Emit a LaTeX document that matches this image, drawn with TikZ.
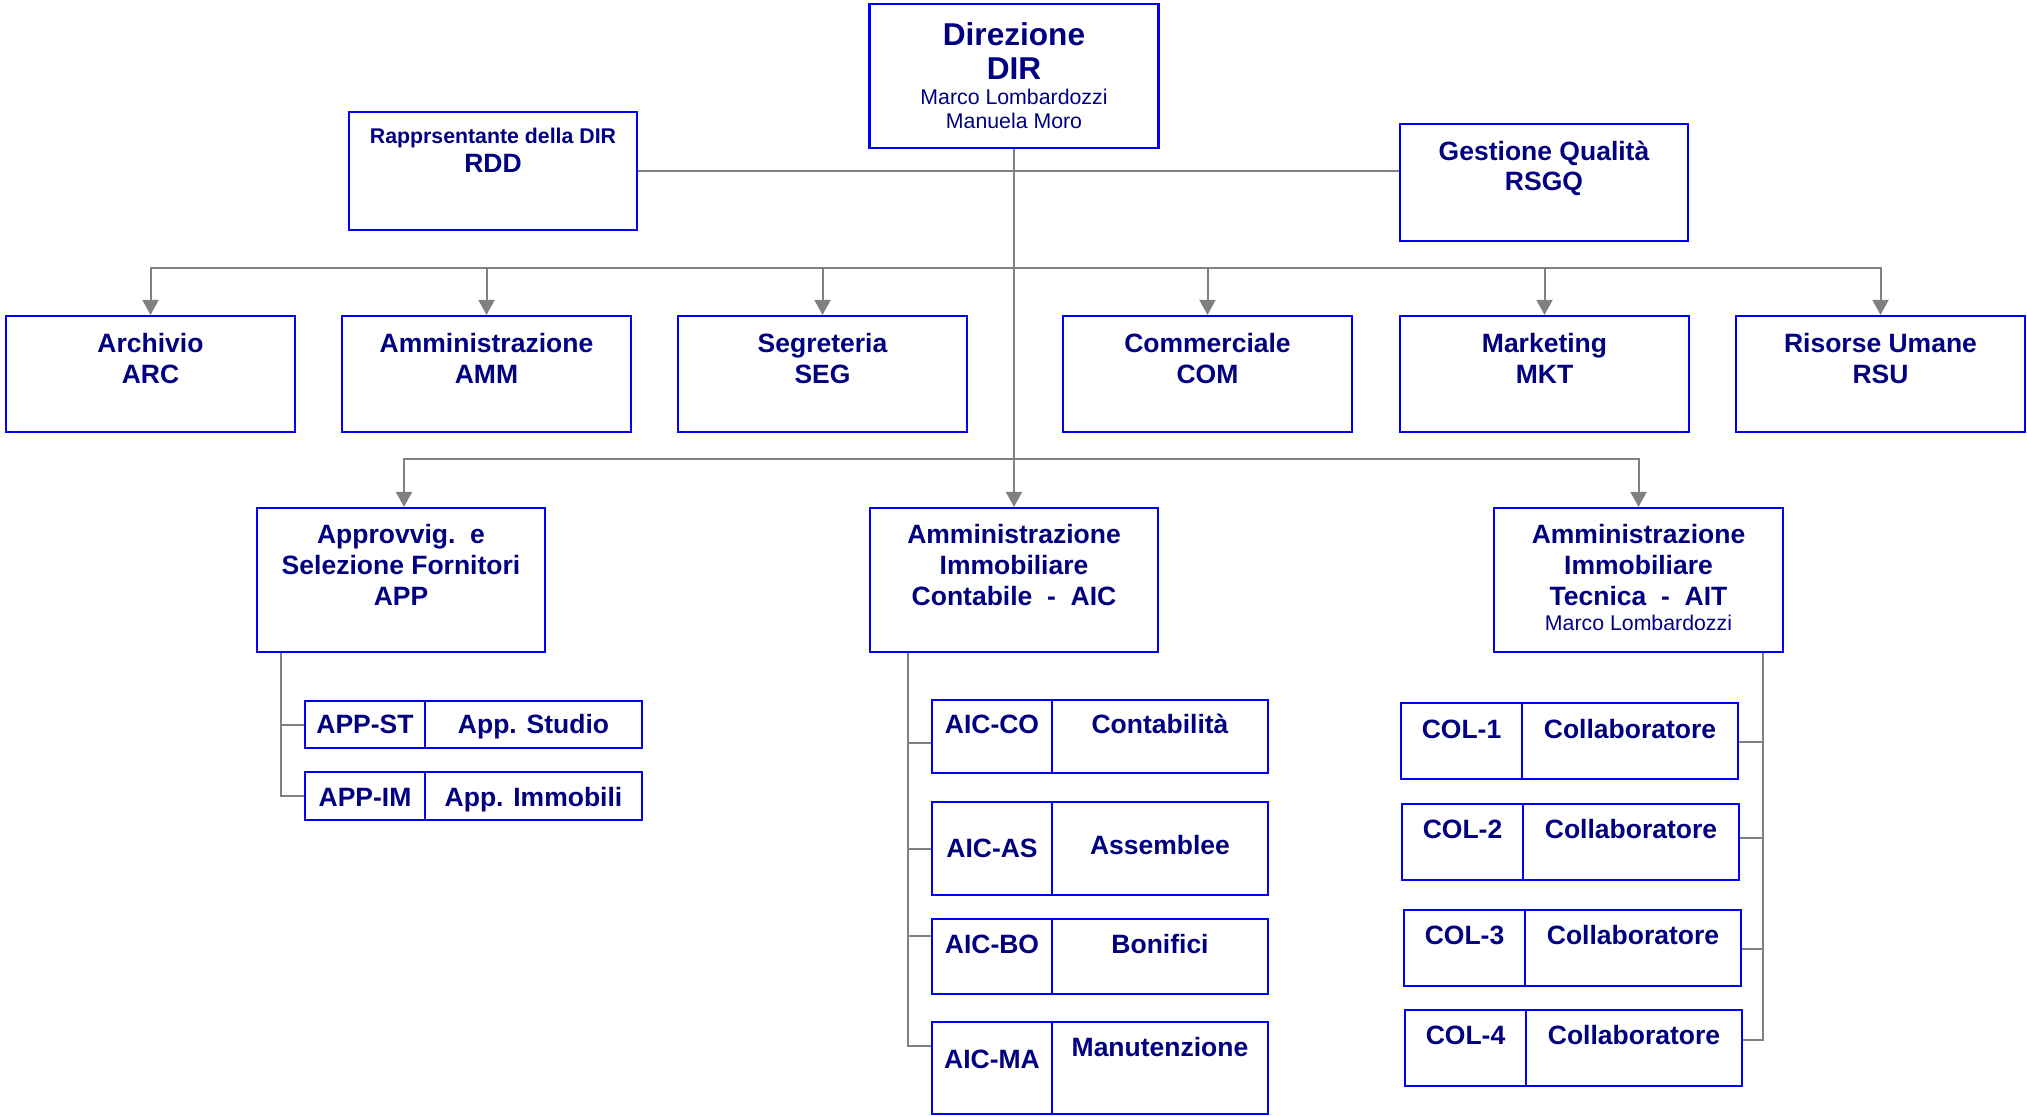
\documentclass[tikz,border=0pt]{standalone}
\usepackage{fontspec}
\setmainfont{Liberation Sans}
\usetikzlibrary{arrows.meta,calc}
\definecolor{navytxt}{RGB}{0,0,128}
\definecolor{boxblue}{RGB}{0,0,250}
\definecolor{conngray}{RGB}{128,128,128}
\newcommand\FtB{\fontsize{26.5pt}{31pt}\selectfont\bfseries}
\newcommand\FtD{\fontsize{31.6pt}{36pt}\selectfont\bfseries}
\newcommand\FtS{\fontsize{21.3pt}{25pt}\selectfont\bfseries}
\newcommand\FtR{\fontsize{21.3pt}{25pt}\selectfont\mdseries}
\newcommand\Ln[3]{\hbox to\hsize{\hss\rule{0pt}{#1}#2\smash{#3}\hss}}
\newcommand\Bx[3]{\parbox[c][#1][t]{#2}{\offinterlineskip#3}}
\begin{document}
\begin{tikzpicture}[x=1pt,y=-1pt,
  box/.style={draw=boxblue,line width=2.2pt,inner sep=0pt,text=navytxt,fill=white},
  conn/.style={draw=conngray,line width=2pt},
  arr/.style={conn,-{Triangle[length=15pt,width=16pt]}}]
\fill[white] (0,0) rectangle (2027,1116);
\useasboundingbox (0,0) rectangle (2027,1116);

% top level
\node[box] (dir) at (1014,76) {\Bx{144pt}{289pt}{\Ln{42pt}{\FtD}{Direzione}\Ln{34pt}{\FtD}{DIR}\Ln{24pt}{\FtR}{Marco Lombardozzi}\Ln{25pt}{\FtR}{Manuela Moro}}};
\node[box] (rdd) at (493,171) {\Bx{118pt}{288pt}{\Ln{31pt}{\FtS}{Rapprsentante della DIR}\Ln{29pt}{\FtB}{RDD}}};
\node[box] (rsgq) at (1544,182.5) {\Bx{117pt}{288pt}{\Ln{36pt}{\FtB}{Gestione Qualità}\Ln{30pt}{\FtB}{RSGQ}}};

% second row
\node[box] (arc) at (150.5,374) {\Bx{116pt}{289pt}{\Ln{36pt}{\FtB}{Archivio}\Ln{31pt}{\FtB}{ARC}}};
\node[box] (amm) at (486.5,374) {\Bx{116pt}{289pt}{\Ln{36pt}{\FtB}{Amministrazione}\Ln{31pt}{\FtB}{AMM}}};
\node[box] (seg) at (822.5,374) {\Bx{116pt}{289pt}{\Ln{36pt}{\FtB}{Segreteria}\Ln{31pt}{\FtB}{SEG}}};
\node[box] (com) at (1207.5,374) {\Bx{116pt}{289pt}{\Ln{36pt}{\FtB}{Commerciale}\Ln{31pt}{\FtB}{COM}}};
\node[box] (mkt) at (1544.5,374) {\Bx{116pt}{289pt}{\Ln{36pt}{\FtB}{Marketing}\Ln{31pt}{\FtB}{MKT}}};
\node[box] (rsu) at (1880.5,374) {\Bx{116pt}{289pt}{\Ln{36pt}{\FtB}{Risorse Umane}\Ln{31pt}{\FtB}{RSU}}};

% third row
\node[box] (app) at (401,580) {\Bx{144pt}{288pt}{\Ln{35pt}{\FtB}{Approvvig.\ \ e}\Ln{31pt}{\FtB}{Selezione Fornitori}\Ln{31pt}{\FtB}{APP}}};
\node[box] (aic) at (1014,580) {\Bx{144pt}{288pt}{\Ln{35pt}{\FtB}{Amministrazione}\Ln{31pt}{\FtB}{Immobiliare}\Ln{31pt}{\FtB}{Contabile\ \ -\ \ AIC}}};
\node[box] (ait) at (1638.5,580) {\Bx{144pt}{289pt}{\Ln{35pt}{\FtB}{Amministrazione}\Ln{31pt}{\FtB}{Immobiliare}\Ln{31pt}{\FtB}{Tecnica\ \ -\ \ AIT}\Ln{25pt}{\FtR}{Marco Lombardozzi}}};

% APP sub units
\node[box] (appst) at (365,724.5) {\Bx{47pt}{120pt}{\Ln{32pt}{\FtB}{APP-ST}}};
\node[box] (appstd) at (533.5,724.5) {\Bx{47pt}{217pt}{\Ln{32pt}{\FtB}{App. Studio}}};
\node[box] (appim) at (365,796) {\Bx{48pt}{120pt}{\Ln{34pt}{\FtB}{APP-IM}}};
\node[box] (appimd) at (533.5,796) {\Bx{48pt}{217pt}{\Ln{34pt}{\FtB}{App. Immobili}}};

% AIC sub units
\node[box] (aicco) at (992,736.5) {\Bx{73pt}{120pt}{\Ln{33pt}{\FtB}{AIC-CO}}};
\node[box] (aiccod) at (1160,736.5) {\Bx{73pt}{216pt}{\Ln{33pt}{\FtB}{Contabilità}}};
\node[box] (aicas) at (992,848.5) {\Bx{93pt}{120pt}{\Ln{55pt}{\FtB}{AIC-AS}}};
\node[box] (aicasd) at (1160,848.5) {\Bx{93pt}{216pt}{\Ln{52pt}{\FtB}{Assemblee}}};
\node[box] (aicbo) at (992,956.5) {\Bx{75pt}{120pt}{\Ln{34pt}{\FtB}{AIC-BO}}};
\node[box] (aicbod) at (1160,956.5) {\Bx{75pt}{216pt}{\Ln{34pt}{\FtB}{Bonifici}}};
\node[box] (aicma) at (992,1068) {\Bx{92pt}{120pt}{\Ln{46pt}{\FtB}{AIC-MA}}};
\node[box] (aicmad) at (1160,1068) {\Bx{92pt}{216pt}{\Ln{34pt}{\FtB}{Manutenzione}}};

% AIT sub units
\node[box] (col1) at (1461.5,741) {\Bx{76pt}{121pt}{\Ln{35pt}{\FtB}{COL-1}}};
\node[box] (col1d) at (1630,741) {\Bx{76pt}{216pt}{\Ln{35pt}{\FtB}{Collaboratore}}};
\node[box] (col2) at (1462.5,842) {\Bx{76pt}{121pt}{\Ln{34pt}{\FtB}{COL-2}}};
\node[box] (col2d) at (1631,842) {\Bx{76pt}{216pt}{\Ln{34pt}{\FtB}{Collaboratore}}};
\node[box] (col3) at (1464.5,948) {\Bx{76pt}{121pt}{\Ln{34pt}{\FtB}{COL-3}}};
\node[box] (col3d) at (1633,948) {\Bx{76pt}{216pt}{\Ln{34pt}{\FtB}{Collaboratore}}};
\node[box] (col4) at (1465.5,1048) {\Bx{76pt}{121pt}{\Ln{34pt}{\FtB}{COL-4}}};
\node[box] (col4d) at (1634,1048) {\Bx{76pt}{216pt}{\Ln{34pt}{\FtB}{Collaboratore}}};

% connectors
\coordinate (bus1) at (1014,268);
\coordinate (bus2) at (1014,459);
\draw[conn] (rdd.east) -- (rsgq.west |- rdd.east);
\draw[arr] (dir.south) -- (aic.north);
\foreach \n in {arc,amm,seg,com,mkt,rsu} \draw[arr] (bus1) -| (\n.north);
\draw[arr] (bus2) -| ([xshift=3pt]app.north);
\draw[arr] (bus2) -| (ait.north);

\draw[conn] ([xshift=25pt]app.south west) |- (appst.west);
\draw[conn] ([xshift=25pt]app.south west) |- (appim.west);

\draw[conn] ([xshift=39pt]aic.south west) |- ([yshift=-6.5pt]aicco.west);
\draw[conn] ([xshift=39pt]aic.south west) |- (aicas.west);
\draw[conn] ([xshift=39pt]aic.south west) |- ([yshift=20.5pt]aicbo.west);
\draw[conn] ([xshift=39pt]aic.south west) |- ([yshift=22pt]aicma.west);

\draw[conn] ([xshift=-21.5pt]ait.south east) |- ([yshift=-1pt]col1d.east);
\draw[conn] ([xshift=-21.5pt]ait.south east) |- ([yshift=4pt]col2d.east);
\draw[conn] ([xshift=-21.5pt]ait.south east) |- ([yshift=-1pt]col3d.east);
\draw[conn] ([xshift=-21.5pt]ait.south east) |- ([yshift=8pt]col4d.east);
\end{tikzpicture}
\end{document}
